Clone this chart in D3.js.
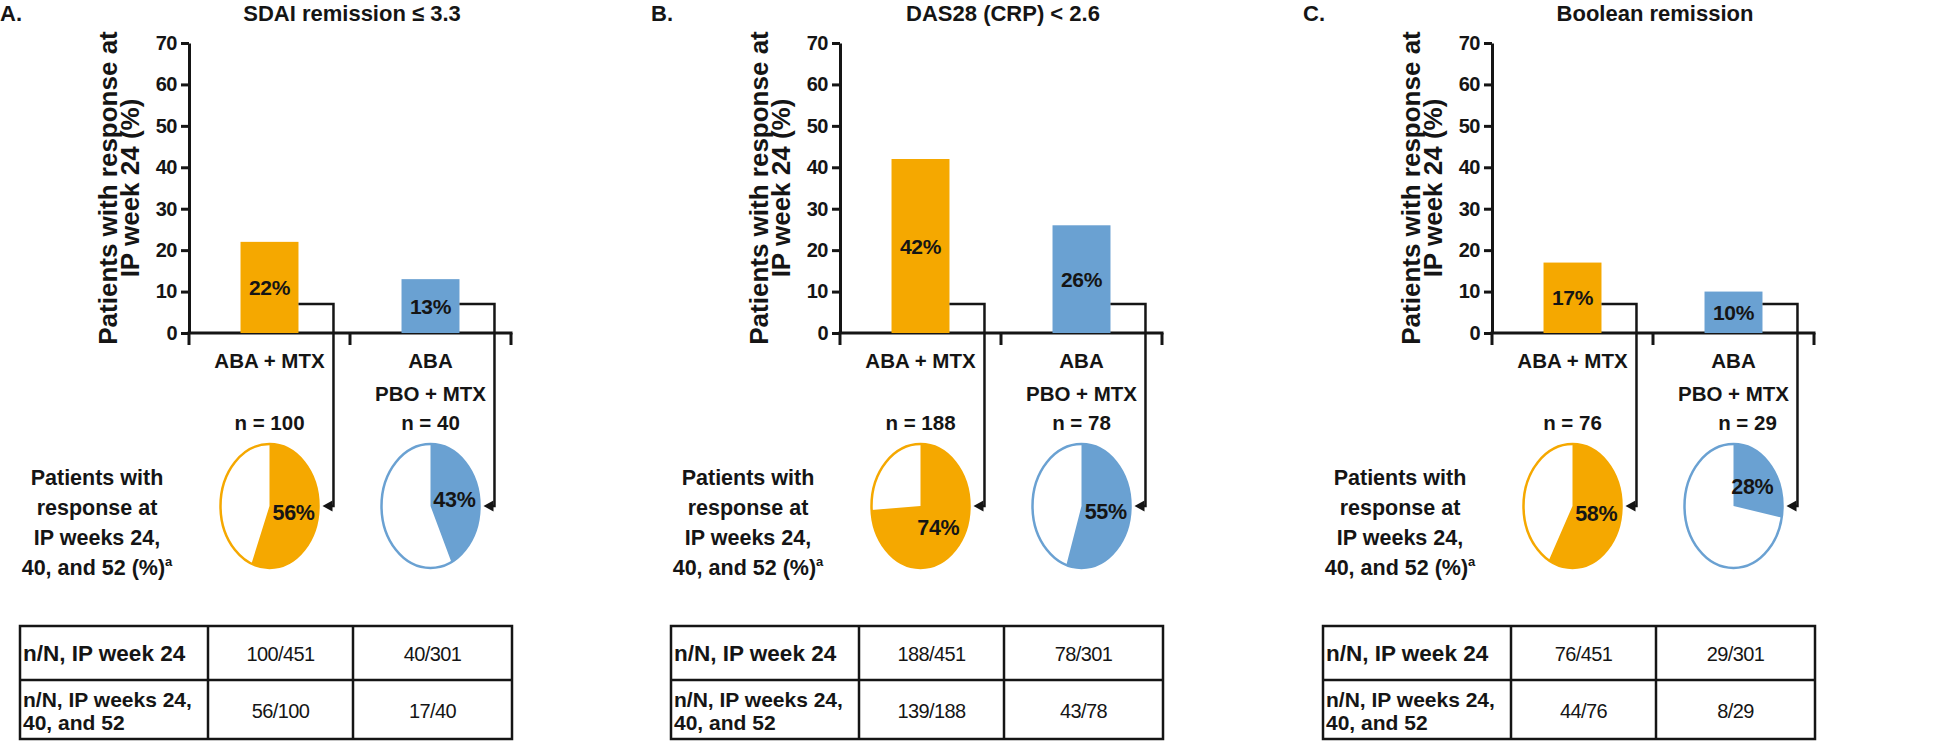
<!DOCTYPE html>
<html>
<head>
<meta charset="utf-8">
<script src="https://cdn.jsdelivr.net/npm/d3@7"></script>
<style>
  body { margin: 0; background: #fff; }
  svg { display: block; font-family: "Liberation Sans", Arial, sans-serif; }
  .bold { font-weight: bold; }
</style>
</head>
<body>
<div id="chart"></div>
<script>
// data
const panelLetters = ['A.', 'B.', 'C.'];
const titles = ['SDAI remission ≤ 3.3', 'DAS28 (CRP) < 2.6', 'Boolean remission'];
const groupLines = [['ABA + MTX'], ['ABA', 'PBO + MTX']];
const week24Pct = [[22, 13], [42, 26], [17, 10]];
const sustainedPct = [[56, 43], [74, 55], [58, 28]];
const nWeek24 = [[100, 40], [188, 78], [76, 29]];
const NTotal = [451, 301];
const nSustained = [[56, 17], [139, 43], [44, 8]];
const yTicks = [0, 10, 20, 30, 40, 50, 60, 70];
const yTitle = ['Patients with response at', 'IP week 24 (%)'];
const pieTitle = ['Patients with', 'response at', 'IP weeks 24,', '40, and 52 (%)'];
const rowLabels = [['n/N, IP week 24'], ['n/N, IP weeks 24,', '40, and 52']];

const colors = ['#f5a800', '#6aa1d2'];
const ink = '#151515';

const width = 1945;
const height = 741;
const panelX = [0, 651, 1303];

// layout inside one panel
const axisLeft = 189, axisRight = 511;
const y0 = 333, yTop = 43;
const pieY = 506, rx = 49, ry = 62;
const connVal = 7;
const nShift = [[0, 0], [0, 0], [0, 14]];
const tab = {cols: [20, 208, 353, 512], rows: [626, 680, 739]};

const svg = d3.select('#chart')
    .append('svg')
    .attr('width', width)
    .attr('height', height);

const y = d3.scaleLinear()
    .domain([0, 70])
    .range([y0, yTop]);

const x = d3.scaleBand()
    .domain([0, 1])
    .range([axisLeft, axisRight])
    .paddingInner(0.64)
    .paddingOuter(0.32);

const bw = x.bandwidth();
const arc = d3.arc().innerRadius(0).outerRadius(rx);

panelLetters.forEach((letter, i) => {
    const g = svg.append('g').attr('transform', `translate(${panelX[i]},0)`);

    // letter + title
    g.append('text')
        .attr('class', 'bold')
        .attr('x', 0).attr('y', 21)
        .attr('font-size', 22)
        .attr('fill', ink)
        .text(letter);

    g.append('text')
        .attr('class', 'bold')
        .attr('x', 352).attr('y', 21)
        .attr('text-anchor', 'middle')
        .attr('font-size', 22)
        .attr('fill', ink)
        .text(titles[i]);

    // y axis title
    yTitle.forEach((line, k) => {
        g.append('text')
            .attr('class', 'bold')
            .attr('transform', `translate(${117 + k * 22}, ${(y0 + yTop) / 2}) rotate(-90)`)
            .attr('text-anchor', 'middle')
            .attr('font-size', 26)
            .attr('fill', ink)
            .text(line);
    });

    // y axis
    const yAxis = g.append('g')
        .attr('transform', `translate(${axisLeft},0)`)
        .call(d3.axisLeft(y).tickValues(yTicks).tickSize(8).tickSizeOuter(0).tickPadding(4));
    yAxis.select('.domain').attr('stroke', ink).attr('stroke-width', 3);
    yAxis.selectAll('.tick line').attr('stroke', ink).attr('stroke-width', 3);
    yAxis.selectAll('.tick text')
        .attr('class', 'bold')
        .attr('font-size', 20)
        .attr('letter-spacing', -0.5)
        .attr('fill', ink);

    // x axis with group boundary ticks
    g.append('line')
        .attr('x1', axisLeft - 1.5).attr('x2', axisRight + 1.5)
        .attr('y1', y0).attr('y2', y0)
        .attr('stroke', ink).attr('stroke-width', 3);
    g.selectAll('.xtick')
        .data([0, 1, 2])
        .enter()
        .append('line')
        .attr('x1', k => axisLeft + k * x.step())
        .attr('x2', k => axisLeft + k * x.step())
        .attr('y1', y0).attr('y2', y0 + 12)
        .attr('stroke', ink).attr('stroke-width', 3);

    [0, 1].forEach(j => {
        const cx = x(j) + bw / 2;
        const v = week24Pct[i][j];
        const p = sustainedPct[i][j];

        // bar
        g.append('rect')
            .attr('x', x(j))
            .attr('y', y(v))
            .attr('width', bw)
            .attr('height', y(0) - y(v))
            .attr('fill', colors[j]);

        g.append('text')
            .attr('class', 'bold')
            .attr('x', cx)
            .attr('y', (y(v) + y(0)) / 2)
            .attr('dy', '0.36em')
            .attr('text-anchor', 'middle')
            .attr('font-size', 21)
            .attr('letter-spacing', -0.3)
            .attr('fill', ink)
            .text(v + '%');

        // group labels
        groupLines[j].forEach((line, k) => {
            g.append('text')
                .attr('class', 'bold')
                .attr('x', cx)
                .attr('y', 368 + k * 33)
                .attr('text-anchor', 'middle')
                .attr('font-size', 20.5)
                .attr('fill', ink)
                .text(line);
        });
        g.append('text')
            .attr('class', 'bold')
            .attr('x', cx + nShift[i][j])
            .attr('y', 430)
            .attr('text-anchor', 'middle')
            .attr('font-size', 20.5)
            .attr('fill', ink)
            .text('n = ' + nWeek24[i][j]);

        // pie (elliptical)
        g.append('ellipse')
            .attr('cx', cx).attr('cy', pieY)
            .attr('rx', rx).attr('ry', ry)
            .attr('fill', '#fff')
            .attr('stroke', colors[j])
            .attr('stroke-width', 2.5);
        const slice = {startAngle: 0, endAngle: 2 * Math.PI * p / 100};
        g.append('path')
            .attr('d', arc(slice))
            .attr('transform', `translate(${cx},${pieY}) scale(1,${ry / rx})`)
            .attr('fill', colors[j]);
        const c = arc.centroid(slice);
        g.append('text')
            .attr('class', 'bold')
            .attr('x', cx + c[0])
            .attr('y', pieY + c[1] * ry / rx)
            .attr('dy', '0.36em')
            .attr('text-anchor', 'middle')
            .attr('font-size', 21.5)
            .attr('letter-spacing', -0.3)
            .attr('fill', ink)
            .text(p + '%');

        // connector bar -> pie
        const right = x(j) + bw;
        const connX = right + 35;
        const tip = cx + rx + 4;
        g.append('path')
            .attr('d', `M${right},${y(connVal)}H${connX}V${pieY}H${tip + 8}`)
            .attr('fill', 'none')
            .attr('stroke', ink)
            .attr('stroke-width', 2.5);
        g.append('path')
            .attr('d', `M${tip},${pieY}L${tip + 10},${pieY - 5.5}L${tip + 10},${pieY + 5.5}Z`)
            .attr('fill', ink);
    });

    // pie side label
    const pt = g.append('text')
        .attr('class', 'bold')
        .attr('text-anchor', 'middle')
        .attr('font-size', 21.5)
        .attr('fill', ink);
    pieTitle.forEach((line, k) => {
        pt.append('tspan')
            .attr('x', 97)
            .attr('y', 485 + k * 30)
            .text(line);
        if (k === pieTitle.length - 1) {
            pt.append('tspan')
                .attr('font-size', 13)
                .attr('dy', -9)
                .text('a');
        }
    });

    // table
    const tg = g.append('g');
    const cols = tab.cols, rows = tab.rows;
    tg.append('rect')
        .attr('x', cols[0]).attr('y', rows[0])
        .attr('width', cols[3] - cols[0])
        .attr('height', rows[2] - rows[0])
        .attr('fill', 'none')
        .attr('stroke', ink)
        .attr('stroke-width', 2.5);
    [cols[1], cols[2]].forEach(lx => {
        tg.append('line')
            .attr('x1', lx).attr('x2', lx)
            .attr('y1', rows[0]).attr('y2', rows[2])
            .attr('stroke', ink).attr('stroke-width', 2.5);
    });
    tg.append('line')
        .attr('x1', cols[0]).attr('x2', cols[3])
        .attr('y1', rows[1]).attr('y2', rows[1])
        .attr('stroke', ink).attr('stroke-width', 2.5);

    const cellVals = [
        [0, 1].map(j => nWeek24[i][j] + '/' + NTotal[j]),
        [0, 1].map(j => nSustained[i][j] + '/' + nWeek24[i][j])
    ];
    const rowBase = [[661], [707, 730]];
    const valBase = [661, 718];

    rowLabels.forEach((lines, r) => {
        lines.forEach((line, k) => {
            tg.append('text')
                .attr('class', 'bold')
                .attr('x', cols[0] + 3)
                .attr('y', rowBase[r][k])
                .attr('font-size', r === 0 ? 22.5 : 21)
                .attr('fill', ink)
                .text(line);
        });
        cellVals[r].forEach((val, j) => {
            tg.append('text')
                .attr('x', (cols[j + 1] + cols[j + 2]) / 2)
                .attr('y', valBase[r])
                .attr('text-anchor', 'middle')
                .attr('font-size', 20)
                .attr('letter-spacing', -0.6)
                .attr('fill', ink)
                .text(val);
        });
    });
});
</script>
</body>
</html>
